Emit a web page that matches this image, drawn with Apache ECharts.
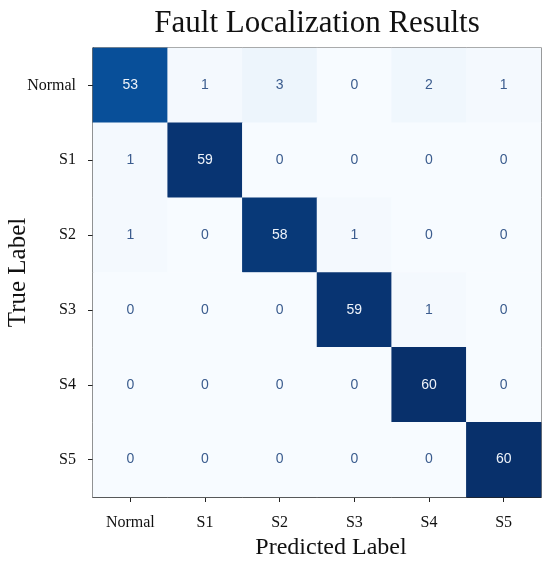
<!DOCTYPE html>
<html><head><meta charset="utf-8">
<script src="https://cdn.jsdelivr.net/npm/echarts@6/dist/echarts.min.js"></script>
<style>html,body{margin:0;padding:0;background:#fff}#c{width:550px;height:565px}</style>
</head><body><div id="c"></div>
<script>
const predictedLabels = ['Normal','S1','S2','S3','S4','S5'];
const trueLabels = ['Normal','S1','S2','S3','S4','S5'];
const rowNormal = [53,1,3,0,2,1];
const rowS1 = [1,59,0,0,0,0];
const rowS2 = [1,0,58,1,0,0];
const rowS3 = [0,0,0,59,1,0];
const rowS4 = [0,0,0,0,60,0];
const rowS5 = [0,0,0,0,0,60];
const rows = [rowNormal,rowS1,rowS2,rowS3,rowS4,rowS5];

const data = [];
rows.forEach((r, yi) => r.forEach((v, xi) => {
  data.push({value:[xi, yi, v], label:{color: v > 30 ? '#eef3fa' : '#3b5c8e'}});
}));

const serif = '"Liberation Serif","Times New Roman",serif';
const chart = echarts.init(document.getElementById('c'), null, {renderer:'canvas'});
chart.setOption({
  animation:false,
  backgroundColor:'#fff',
  title:[
    {text:'Fault Localization Results', left:312, textAlign:'center', top:3,
      textStyle:{fontFamily:serif, fontSize:31, fontWeight:'normal', color:'#111'}},
    {text:'Predicted Label', left:331, textAlign:'center', top:536,
      textStyle:{fontFamily:serif, fontSize:24, fontWeight:'normal', color:'#111'}, padding:0}
  ],
  grid:{left:93, right:9, top:48, bottom:68, outerBoundsMode:'none', containLabel:false,
    show:true, borderColor:'#222', borderWidth:1.2, backgroundColor:'transparent'},
  xAxis:{type:'category', data:predictedLabels,
    axisLine:{show:true, lineStyle:{color:'#222', width:1.2}},
    axisTick:{show:true, alignWithLabel:true, length:5, lineStyle:{color:'#222'}},
    axisLabel:{fontFamily:serif, fontSize:16, color:'#111', margin:18},
    splitArea:{show:false}, splitLine:{show:false}},
  yAxis:{type:'category', data:trueLabels, inverse:true, name:'True Label', nameLocation:'middle', nameGap:62,
    nameMoveOverlap:false,
    nameTextStyle:{fontFamily:serif, fontSize:25, color:'#111'},
    axisLine:{show:true, lineStyle:{color:'#222', width:1.2}},
    axisTick:{show:true, alignWithLabel:true, length:5, lineStyle:{color:'#222'}},
    axisLabel:{fontFamily:serif, fontSize:16, color:'#111', margin:17},
    splitArea:{show:false}, splitLine:{show:false}},
  visualMap:{show:false, min:0, max:60, dimension:2,
    inRange:{color:['#f7fbff','#deebf7','#c6dbef','#9ecae1','#6baed6','#4292c6','#2171b5','#08519c','#08306b']}},
  series:[{type:'heatmap', data:data,
    label:{show:true, fontFamily:'"Liberation Sans Narrow","Arial Narrow","Liberation Sans",sans-serif', fontSize:14},
    itemStyle:{borderWidth:0}}]
});
</script></body></html>
